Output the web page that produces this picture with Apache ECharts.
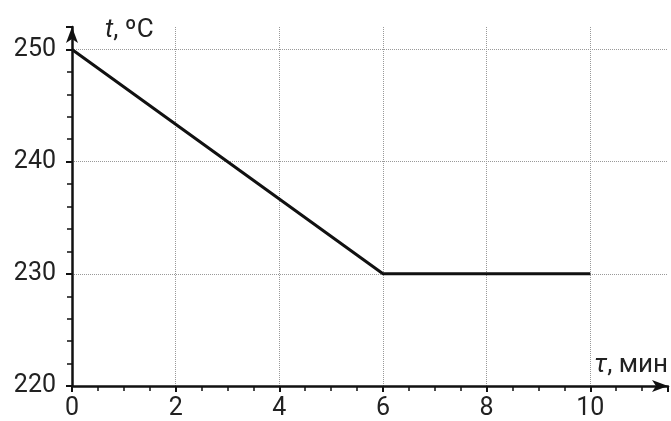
<!DOCTYPE html>
<html><head><meta charset="utf-8">
<script src="https://cdn.jsdelivr.net/npm/echarts@6/dist/echarts.min.js"></script>
<style>html,body{margin:0;padding:0;background:#fff}#c{width:671px;height:421px}</style>
</head><body><div id="c"></div>
<script>
const timeMin = [0, 6, 10];
const tempC = [250, 230, 230];
const xTicks = [0, 2, 4, 6, 8, 10];
const yTicks = [220, 230, 240, 250];

const chart = echarts.init(document.getElementById('c'));
chart.setOption({
  animation: false,
  backgroundColor: '#fff',
  grid: { left: 72, right: 3, top: 27, bottom: 34 },
  xAxis: {
    type: 'value', min: 0, max: 11.5, interval: 2,
    name: '{it|τ}, мин',
    nameLocation: 'end', nameGap: 0,
    nameTextStyle: { align: 'right', verticalAlign: 'bottom', padding: [0, 0, 8, 0],
      fontFamily: 'Roboto', fontSize: 26, color: '#222',
      rich: { it: { fontStyle: 'italic', fontFamily: 'Roboto', fontSize: 26, color: '#222' } } },
    axisLine: { show: true, symbol: ['none', 'arrow'], symbolSize: [9, 16], lineStyle: { color: '#111', width: 2.5 } },
    axisTick: { show: true, length: 6, lineStyle: { color: '#111', width: 2 } },
    minorTick: { show: true, splitNumber: 4, length: 5, lineStyle: { color: '#111', width: 1.5 } },
    axisLabel: { fontFamily: 'Roboto', fontSize: 25, color: '#222', margin: 10,
      formatter: v => xTicks.includes(v) ? String(v) : '' },
    splitLine: { show: true, showMinLine: false, showMaxLine: false, lineStyle: { color: '#999', type: 'dotted', width: 1 } }
  },
  yAxis: {
    type: 'value', min: 220, max: 252, interval: 10,
    name: '{it|t}, ºC',
    nameLocation: 'end', nameGap: -3,
    nameTextStyle: { align: 'left', verticalAlign: 'middle', padding: [0, 0, 0, 33],
      fontFamily: 'Roboto', fontSize: 26, color: '#222',
      rich: { it: { fontStyle: 'italic', fontFamily: 'Roboto', fontSize: 26, color: '#222' } } },
    axisLine: { show: true, symbol: ['none', 'arrow'], symbolSize: [9, 16], lineStyle: { color: '#111', width: 2.5 } },
    axisTick: { show: true, length: 6, lineStyle: { color: '#111', width: 2 } },
    minorTick: { show: true, splitNumber: 5, length: 5, lineStyle: { color: '#111', width: 1.5 } },
    axisLabel: { fontFamily: 'Roboto', fontSize: 25, color: '#222', margin: 16,
      formatter: v => yTicks.includes(v) ? String(v) : '' },
    splitLine: { show: true, showMinLine: false, showMaxLine: false, lineStyle: { color: '#999', type: 'dotted', width: 1 } }
  },
  series: [{
    type: 'line',
    data: timeMin.map((x, i) => [x, tempC[i]]),
    symbol: 'none',
    lineStyle: { color: '#111', width: 3 }
  }]
});
</script></body></html>
